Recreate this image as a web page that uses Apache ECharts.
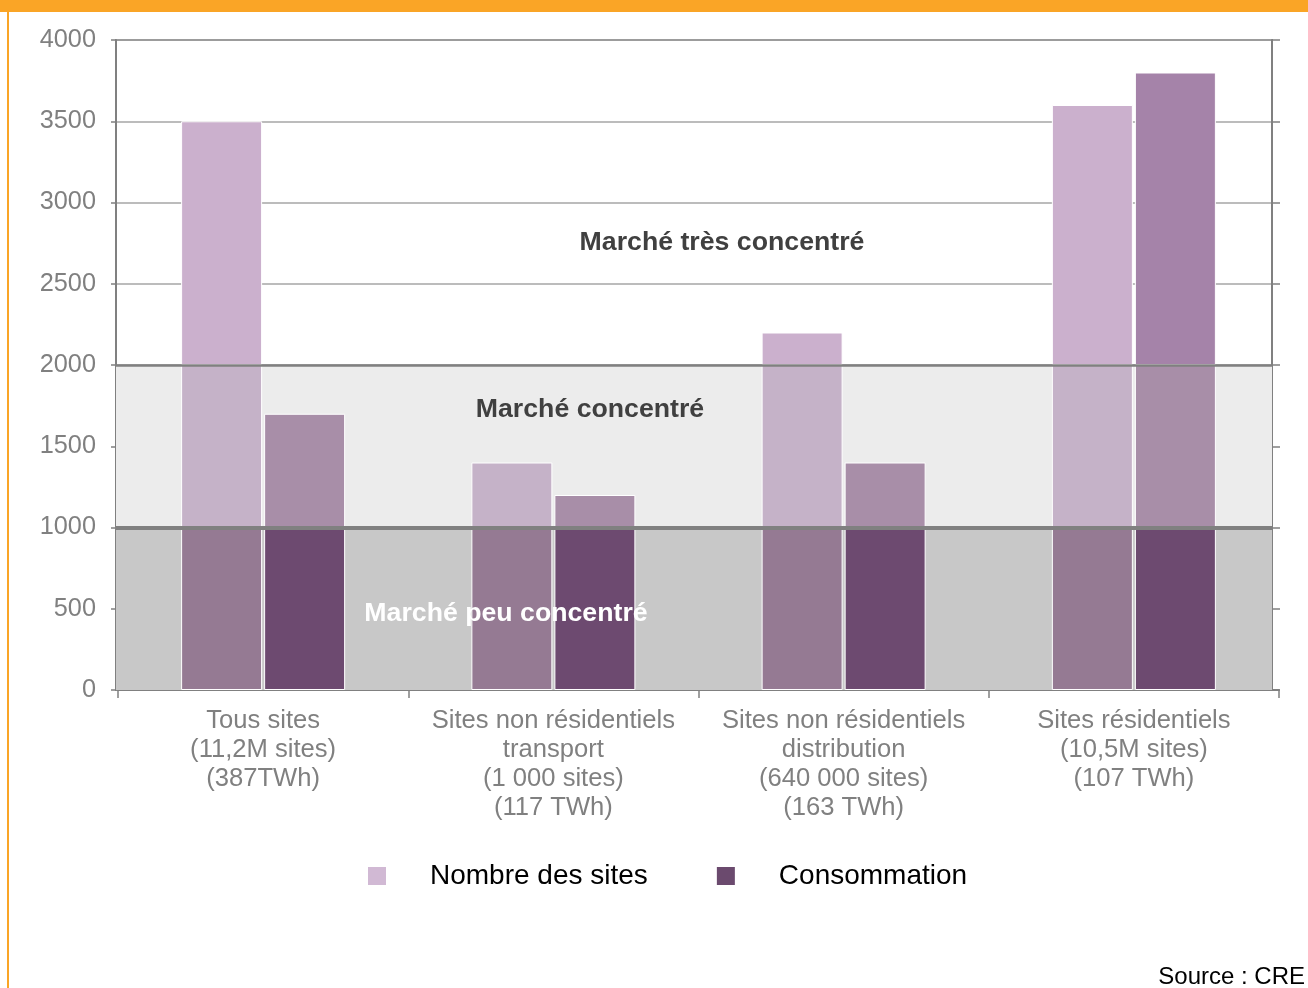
<!DOCTYPE html>
<html>
<head>
<meta charset="utf-8">
<script src="https://cdn.jsdelivr.net/npm/echarts@6/dist/echarts.min.js"></script>
<style>
  html, body { margin: 0; padding: 0; background: #fff; }
  #chart { width: 1308px; height: 988px; }
</style>
</head>
<body>
<div id="chart"></div>
<script>
// data
const categories = [
  "Tous sites\n(11,2M sites)\n(387TWh)",
  "Sites non résidentiels\ntransport\n(1 000 sites)\n(117 TWh)",
  "Sites non résidentiels\ndistribution\n(640 000 sites)\n(163 TWh)",
  "Sites résidentiels\n(10,5M sites)\n(107 TWh)",
];
const nombreSites = [3500, 1400, 2200, 3600];
const consommation = [1700, 1200, 1400, 3800];
const yMin = 0;
const yMax = 4000;
const yStep = 500;
const bandLimits = [1000, 2000]; // peu concentré | concentré | très concentré

const FONT = '"Liberation Sans", Arial, sans-serif';
const GREY = "#808080";

// part of each bar that falls inside [lo, hi]
const segment = (values, lo, hi) =>
  values.map((v) => (v > lo ? Math.min(v, hi) - lo : "-"));

const bands = [yMin, bandLimits[0], bandLimits[1], yMax];
const lightColors = ["#957a93", "#c5b2c8", "#cbb0cd"];
const darkColors = ["#6d4a70", "#a88ea8", "#a583a9"];

const barSeries = [];
const addBars = (name, stack, values, colors) => {
  for (let i = 0; i < 3; i++) {
    barSeries.push({
      name: name,
      type: "bar",
      stack: stack,
      xAxisIndex: 1,
      yAxisIndex: 2,
      barWidth: 81,
      barGap: "2.5%",
      z: 2,
      itemStyle: { color: colors[i], borderColor: "#fff", borderWidth: 1 },
      data: segment(values, bands[i], bands[i + 1]),
    });
  }
};
addBars("Nombre des sites", "sites", nombreSites, lightColors);
addBars("Consommation", "conso", consommation, darkColors);

const chart = echarts.init(document.getElementById("chart"));

const option = {
  animation: false,
  textStyle: { fontFamily: FONT },
  grid: [
    // frame, bands and value axis
    { left: 116, right: 36, top: 40, bottom: 298, show: true, borderColor: GREY, borderWidth: 2, backgroundColor: "transparent" },
    // category axis and bars
    { left: 118, right: 29, top: 40, bottom: 298 },
  ],
  legend: {
    left: 361,
    top: 857,
    itemWidth: 20,
    itemHeight: 20,
    itemGap: 67,
    icon: "rect",
    textStyle: { color: "#000", fontSize: 28, fontFamily: FONT, padding: [0, 0, 0, 38] },
    data: [
      { name: "Nombre des sites", itemStyle: { color: "#d1b9d4" } },
      { name: "Consommation", itemStyle: { color: "#6b4a6e" } },
    ],
  },
  xAxis: [
    { gridIndex: 0, type: "category", data: categories, show: false },
    {
      gridIndex: 1,
      type: "category",
      data: categories,
      axisLine: { lineStyle: { color: GREY, width: 2 } },
      axisTick: { show: true, length: 8, lineStyle: { color: GREY, width: 1.5 } },
      axisLabel: {
        color: GREY,
        fontSize: 25.6,
        lineHeight: 29,
        margin: 16,
        fontFamily: FONT,
        interval: 0,
      },
    },
  ],
  yAxis: [
    {
      gridIndex: 0,
      type: "value",
      min: yMin,
      max: yMax,
      interval: yStep,
      axisLine: { show: true, lineStyle: { color: GREY, width: 2 } },
      axisTick: { show: true, length: 5, lineStyle: { color: GREY, width: 1.5 } },
      axisLabel: { color: GREY, fontSize: 25.3, margin: 20, fontFamily: FONT, formatter: (v) => String(v) },
      splitLine: { show: true, lineStyle: { color: "#a6a6a6", width: 1.5 } },
    },
    {
      gridIndex: 0,
      type: "value",
      position: "right",
      min: yMin,
      max: yMax,
      interval: yStep,
      axisLine: { show: true, lineStyle: { color: GREY, width: 2 } },
      axisTick: { show: true, length: 8, lineStyle: { color: GREY, width: 1.5 } },
      axisLabel: { show: false },
      splitLine: { show: false },
    },
    { gridIndex: 1, type: "value", min: yMin, max: yMax, interval: yStep, show: false, splitLine: { show: false } },
  ],
  series: [
    {
      // background bands, under the grid lines
      type: "line",
      xAxisIndex: 0,
      yAxisIndex: 0,
      data: [],
      z: -1,
      silent: true,
      markArea: {
        silent: true,
        data: [
          [{ yAxis: bands[0], itemStyle: { color: "#c8c8c8" } }, { yAxis: bands[1] }],
          [{ yAxis: bands[1], itemStyle: { color: "#ececec" } }, { yAxis: bands[2] }],
        ],
      },
    },
    ...barSeries,
    {
      // band limits drawn over the bars
      type: "line",
      xAxisIndex: 0,
      yAxisIndex: 0,
      data: [],
      z: 5,
      silent: true,
      markLine: {
        silent: true,
        symbol: "none",
        label: { show: false },
        data: [
          { yAxis: bandLimits[0], lineStyle: { color: GREY, width: 4, type: "solid" } },
          { yAxis: bandLimits[1], lineStyle: { color: GREY, width: 2.5, type: "solid" } },
        ],
      },
    },
  ],
  graphic: [
    { type: "rect", z: 100, shape: { x: 0, y: 0, width: 1308, height: 12 }, style: { fill: "#faa526" } },
    { type: "rect", z: 100, shape: { x: 7, y: 12, width: 2, height: 976 }, style: { fill: "#faa526" } },
    {
      type: "text", z: 100, x: 722, y: 243,
      style: { text: "Marché très concentré", font: "bold 26.7px " + FONT, fill: "#404040", textAlign: "center", textVerticalAlign: "middle" },
    },
    {
      type: "text", z: 100, x: 590, y: 410,
      style: { text: "Marché concentré", font: "bold 26.7px " + FONT, fill: "#404040", textAlign: "center", textVerticalAlign: "middle" },
    },
    {
      type: "text", z: 100, x: 506, y: 614,
      style: { text: "Marché peu concentré", font: "bold 26.7px " + FONT, fill: "#ffffff", textAlign: "center", textVerticalAlign: "middle" },
    },
    {
      type: "text", z: 100, x: 1305, y: 977,
      style: { text: "Source : CRE", font: "24px " + FONT, fill: "#000", textAlign: "right", textVerticalAlign: "middle" },
    },
  ],
};

chart.setOption(option);
</script>
</body>
</html>
